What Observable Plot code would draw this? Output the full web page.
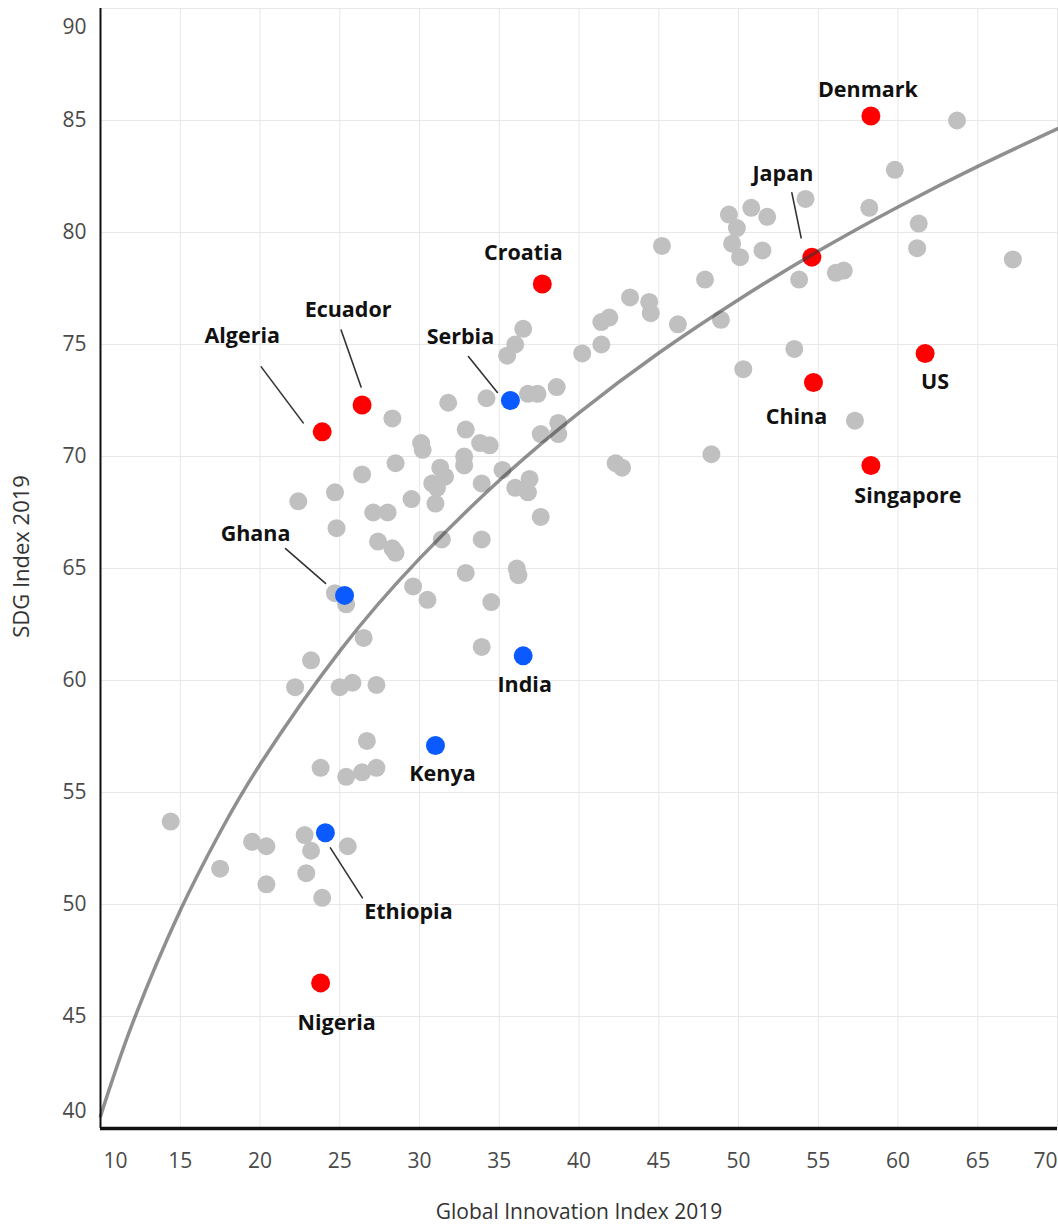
<!DOCTYPE html>
<html>
<head>
<meta charset="utf-8">
<script src="https://cdn.jsdelivr.net/npm/d3@7"></script>
<script src="https://cdn.jsdelivr.net/npm/@observablehq/plot@0.6"></script>
<style>
  html, body { margin: 0; padding: 0; background: #fff; }
  #chart svg { display: block; }
</style>
</head>
<body>
<div id="chart"></div>
<script>
// ---- Data ----
const grayX = [36.5,36.0,35.5,40.2,31.8,34.2,36.8,37.4,38.6,28.3,32.9,30.1,30.2,33.8,34.4,37.6,38.7,38.7,28.5,32.8,32.8,26.4,31.3,31.6,30.8,31.1,35.2,24.7,22.4,33.9,36.0,36.9,36.8,27.1,28.0,29.5,31.0,37.6,24.8,27.4,28.3,28.5,31.4,33.9,32.9,36.1,36.2,24.7,25.4,29.6,30.5,34.5,33.9,26.5,23.2,22.2,25.0,25.8,27.3,26.7,23.8,25.4,26.4,27.3,14.4,19.5,20.4,22.8,23.2,25.5,17.5,22.9,20.4,23.9,54.2,58.2,59.8,63.7,61.3,61.2,67.2,53.8,56.1,56.6,49.4,49.9,50.8,51.8,49.6,50.1,51.5,45.2,47.9,43.2,44.4,44.5,46.2,48.9,41.9,41.4,41.4,53.5,50.3,57.3,48.3,42.3,42.7];
const grayY = [75.7,75.0,74.5,74.6,72.4,72.6,72.8,72.8,73.1,71.7,71.2,70.6,70.3,70.6,70.5,71.0,71.5,71.0,69.7,70.0,69.6,69.2,69.5,69.1,68.8,68.6,69.4,68.4,68.0,68.8,68.6,69.0,68.4,67.5,67.5,68.1,67.9,67.3,66.8,66.2,65.9,65.7,66.3,66.3,64.8,65.0,64.7,63.9,63.4,64.2,63.6,63.5,61.5,61.9,60.9,59.7,59.7,59.9,59.8,57.3,56.1,55.7,55.9,56.1,53.7,52.8,52.6,53.1,52.4,52.6,51.6,51.4,50.9,50.3,81.5,81.1,82.8,85.0,80.4,79.3,78.8,77.9,78.2,78.3,80.8,80.2,81.1,80.7,79.5,78.9,79.2,79.4,77.9,77.1,76.9,76.4,75.9,76.1,76.2,76.0,75.0,74.8,73.9,71.6,70.1,69.7,69.5];

const hiNames = ["Denmark","Japan","Croatia","Ecuador","Algeria","China","US","Singapore","Nigeria","Serbia","Ghana","India","Kenya","Ethiopia"];
const hiX     = [58.3, 54.6, 37.7, 26.4, 23.9, 54.7, 61.7, 58.3, 23.8, 35.7, 25.3, 36.5, 31.0, 24.1];
const hiY     = [85.2, 78.9, 77.7, 72.3, 71.1, 73.3, 74.6, 69.6, 46.5, 72.5, 63.8, 61.1, 57.1, 53.2];
const hiGroup = ["A","A","A","A","A","A","A","A","A","B","B","B","B","B"];

// logarithmic trend line
const trendX = [10, 12, 15, 17.5, 20, 25, 30, 35, 40, 45, 50, 55, 60, 65, 70];
const trendY = [40.55, 44.68, 49.73, 53.23, 56.25, 61.31, 65.44, 68.93, 71.95, 74.62, 77.0, 79.17, 81.14, 82.95, 84.63];

const xTicks = [10,15,20,25,30,35,40,45,50,55,60,65,70];
const yTicks = [40,45,50,55,60,65,70,75,80,85,90];

const xTitle = "Global Innovation Index 2019";
const yTitle = "SDG Index 2019";

// ---- Tables built from the arrays ----
const grayPts = grayX.map((x, i) => ({x, y: grayY[i]}));
const hiPts = hiNames.map((name, i) => ({name, x: hiX[i], y: hiY[i], group: hiGroup[i]}));
const trend = trendX.map((x, i) => ({x, y: trendY[i]}));

// ---- Layout of annotations (pixel offsets from the dot) ----
const labelOffset = {
  Denmark: [-3, -26], Japan: [-29, -83], Croatia: [-19, -31], Ecuador: [-14, -95],
  Algeria: [-80, -96], China: [-17, 35], US: [10, 29], Singapore: [37, 31],
  Nigeria: [16, 40], Serbia: [-50, -63], Ghana: [-89, -61], India: [1.5, 29.5],
  Kenya: [7, 29], Ethiopia: [83, 79]
};
const leader = { // [startDx, startDy, endDx, endDy]
  Japan: [-10.7, -19.3, -20, -64.3],
  Ecuador: [-1, -18, -21, -75],
  Algeria: [-19, -9, -61, -65],
  Serbia: [-13, -8, -42, -44],
  Ghana: [-19, -12, -59, -46.7],
  Ethiopia: [5, 15, 37, 65]
};

const FONT = "'Open Sans', 'DejaVu Sans', sans-serif";
const lineShape = { draw(context, l) { context.moveTo(0, 0); context.lineTo(0, -l); } };

const labelMarks = hiNames.map(n => Plot.text(hiPts.filter(d => d.name === n), {
  x: "x", y: "y", text: "name", dx: labelOffset[n][0], dy: labelOffset[n][1],
  fontSize: 21.5, fontWeight: 700, fill: "#111", fontFamily: FONT
}));
const leaderMarks = Object.keys(leader).map(n => {
  const [sx, sy, ex, ey] = leader[n];
  const ddx = ex - sx, ddy = ey - sy;
  return Plot.vector(hiPts.filter(d => d.name === n), {
    x: "x", y: "y", dx: sx, dy: sy, anchor: "start",
    length: Math.hypot(ddx, ddy), rotate: Math.atan2(ddx, -ddy) * 180 / Math.PI,
    shape: lineShape, stroke: "#333", strokeWidth: 1.6
  });
});

const axisStyle = {tickSize: 0, fontSize: 21, color: "#4a4a4a", fill: "#4a4a4a", label: null, fontFamily: FONT};

const chart = Plot.plot({
  width: 1058,
  height: 1226,
  marginLeft: 100,
  marginRight: 1,
  marginTop: 8,
  marginBottom: 98,
  style: {fontFamily: FONT, background: "#fff", overflow: "visible"},
  x: {domain: [10, 70]},
  y: {domain: [40, 90]},
  color: {domain: ["A", "B"], range: ["#ff0000", "#0a5aff"]},
  marks: [
    Plot.gridX(xTicks, {stroke: "#e8e8e8", strokeOpacity: 1, strokeWidth: 1}),
    Plot.gridY(yTicks, {stroke: "#e8e8e8", strokeOpacity: 1, strokeWidth: 1}),
    Plot.axisX(xTicks.filter(t => t !== 10 && t !== 70), {...axisStyle, tickPadding: 25}),
    Plot.axisX([10], {...axisStyle, tickPadding: 25, dx: 15}),
    Plot.axisX([70], {...axisStyle, tickPadding: 25, dx: -12}),
    Plot.axisY(yTicks.filter(t => t !== 40 && t !== 90), {...axisStyle, tickPadding: 14}),
    Plot.axisY([90], {...axisStyle, tickPadding: 14, dy: 19}),
    Plot.axisY([40], {...axisStyle, tickPadding: 14, dy: -17}),
    Plot.dot(grayPts, {x: "x", y: "y", r: 9, fill: "#c0c0c0"}),
    Plot.dot(hiPts, {x: "x", y: "y", r: 9.5, fill: "group"}),
    Plot.line(trend, {x: "x", y: "y", curve: "natural", stroke: "#333", strokeOpacity: 0.55, strokeWidth: 3.5}),
    ...leaderMarks,
    ...labelMarks,
    Plot.ruleX([10], {stroke: "#111", strokeWidth: 2}),
    Plot.ruleY([40], {stroke: "#111", strokeWidth: 3.5}),
    Plot.text([xTitle], {frameAnchor: "bottom", lineAnchor: "middle", textAnchor: "middle", dy: 84, fontSize: 21, fill: "#333", fontFamily: FONT}),
    Plot.text([yTitle], {frameAnchor: "left", lineAnchor: "middle", textAnchor: "middle", dx: -79, dy: -12, rotate: -90, fontSize: 22, fill: "#333", fontFamily: FONT})
  ]
});
document.getElementById("chart").appendChild(chart);
</script>
</body>
</html>
